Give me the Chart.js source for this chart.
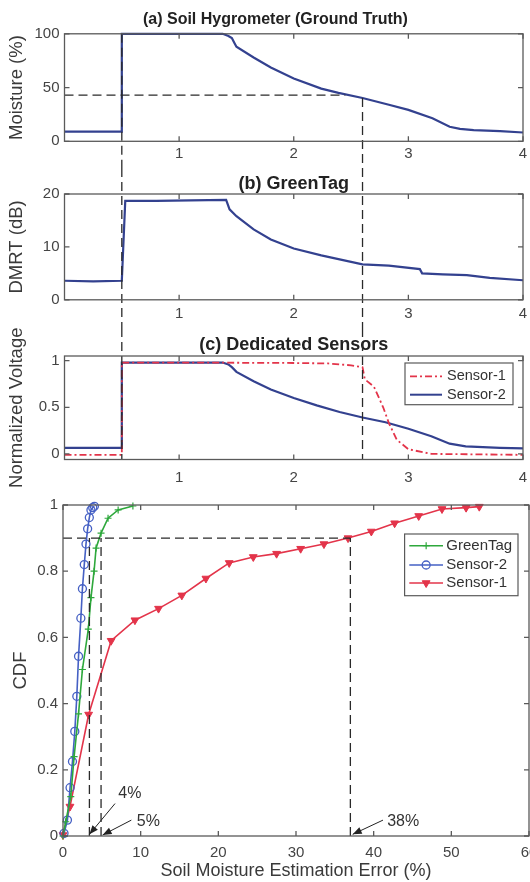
<!DOCTYPE html>
<html><head><meta charset="utf-8">
<script src="https://cdn.jsdelivr.net/npm/chart.js@4.4.1/dist/chart.umd.min.js"></script>
<style>
html,body{margin:0;padding:0;background:#fff;}
body{width:530px;height:882px;overflow:hidden;position:relative;}
canvas{position:absolute;left:0;display:block;}
#cD{background:#fff;}
</style></head><body>
<canvas id="cA" width="550" height="168" style="top:0px"></canvas>
<canvas id="cB" width="550" height="160" style="top:168px"></canvas>
<canvas id="cC" width="550" height="191" style="top:300px"></canvas>
<canvas id="cD" width="550" height="391" style="top:491px"></canvas>
<script>
const FONT = "'Liberation Sans', Arial, Helvetica, sans-serif";
Chart.defaults.font.family = FONT;
Chart.defaults.color = '#444';

// ---------- data ----------
// (a) soil hygrometer
const daysA = [0, 0.5, 0.5, 1.0, 1.38, 1.43, 1.46, 1.48, 1.5, 1.65, 1.8, 2.0, 2.24, 2.39, 2.6, 2.83, 3.0, 3.21, 3.36, 3.45, 3.57, 3.8, 4.0];
const moistureA = [9, 9, 100, 100, 100, 98, 96, 92, 88, 78, 68.6, 58.5, 49, 45, 40.3, 34, 29.2, 21.4, 13.5, 11.5, 10.4, 9.4, 8.2];
// (b) GreenTag DMRT
const daysB = [0, 0.25, 0.5, 0.53, 0.8, 1.1, 1.41, 1.44, 1.5, 1.65, 1.8, 2.0, 2.24, 2.39, 2.6, 2.83, 3.1, 3.12, 3.3, 3.51, 3.71, 4.0];
const dmrtB = [3.6, 3.5, 3.6, 18.7, 18.7, 18.8, 18.9, 17.1, 15.8, 13.3, 11.4, 9.7, 8.4, 7.7, 6.7, 6.45, 5.8, 5.0, 4.8, 4.66, 4.15, 3.7];
// (c) dedicated sensors
const daysSensor1 = [0, 0.5, 0.5, 1.0, 2.0, 2.3, 2.5, 2.6, 2.62, 2.7, 2.78, 2.83, 2.9, 3.0, 3.2, 4.0];
const voltSensor1 = [-0.01, -0.01, 0.98, 0.98, 0.975, 0.97, 0.95, 0.93, 0.8, 0.72, 0.5, 0.33, 0.15, 0.05, 0.0, -0.01];
const daysSensor2 = [0, 0.5, 0.5, 1.0, 1.38, 1.43, 1.46, 1.5, 1.65, 1.8, 2.0, 2.2, 2.4, 2.6, 2.8, 3.0, 3.2, 3.36, 3.5, 3.8, 4.0];
const voltSensor2 = [0.065, 0.065, 0.98, 0.98, 0.98, 0.96, 0.93, 0.88, 0.78, 0.69, 0.6, 0.52, 0.45, 0.39, 0.34, 0.27, 0.19, 0.11, 0.08, 0.065, 0.06];
// CDF of estimation error
const errGreenTag = [0, 0.35, 1.0, 1.43, 2.0, 2.5, 3.26, 3.6, 4.0, 4.26, 4.9, 5.8, 7.1, 9.0];
const cdfGreenTag = [0, 0.043, 0.119, 0.24, 0.369, 0.503, 0.625, 0.72, 0.8, 0.87, 0.915, 0.96, 0.985, 0.997];
const errSensor2 = [0.13, 0.57, 0.91, 1.22, 1.52, 1.78, 2.0, 2.3, 2.5, 2.74, 2.96, 3.17, 3.39, 3.6, 3.83, 4.04];
const cdfSensor2 = [0.008, 0.048, 0.146, 0.225, 0.316, 0.422, 0.543, 0.658, 0.747, 0.82, 0.882, 0.928, 0.962, 0.985, 0.992, 0.996];
const errSensor1 = [0, 0.9, 3.3, 6.2, 9.26, 12.3, 15.3, 18.4, 21.4, 24.5, 27.5, 30.6, 33.6, 36.7, 39.7, 42.7, 45.8, 48.8, 51.9, 53.6];
const cdfSensor1 = [0.003, 0.089, 0.367, 0.59, 0.652, 0.687, 0.727, 0.778, 0.825, 0.843, 0.853, 0.868, 0.882, 0.9, 0.92, 0.945, 0.967, 0.988, 0.992, 0.995];

// ticks
const dayTicks = [1, 2, 3, 4];
const moistureTicks = [0, 50, 100];
const dmrtTicks = [0, 10, 20];
const voltTicks = [0, 0.5, 1];
const errTicks = [0, 10, 20, 30, 40, 50, 60];
const cdfTicks = [0, 0.2, 0.4, 0.6, 0.8, 1];

// reference markers
const refDays = [0.5, 2.6];
const refMoisture = 43;
const refMoistureEnd = 2.45;
const refMoistureAtDay = [100, 40.3];
const cdfLevel = 0.9;
const errAt90 = [3.4, 4.9, 37];
const errLabels = ['4%', '5%', '38%'];

// ---------- helpers ----------
const pts = (xs, ys) => xs.map((x, i) => ({x, y: ys[i]}));
const BLUE = '#33418f', RED = '#e3344a', GREEN = '#2ea83c', BLUE2 = '#4560c4';
const fmt = v => String(+Number(v).toFixed(2));

function axisX(min, max, ticks, height, pad, title) {
  return {type: 'linear', min, max,
    afterBuildTicks: s => { s.ticks = ticks.map(v => ({value: v})); },
    afterFit: s => { s.height = height; },
    grid: {display: false, drawTicks: false}, border: {display: false},
    ticks: {autoSkip: false, maxRotation: 0, padding: pad, font: {size: 15}, color: '#444', callback: fmt},
    title: title || {display: false}};
}
function axisY(min, max, ticks, width, text, tpad) {
  return {type: 'linear', min, max,
    afterBuildTicks: s => { s.ticks = ticks.map(v => ({value: v})); },
    afterFit: s => { s.width = width; },
    grid: {display: false, drawTicks: false}, border: {display: false},
    ticks: {autoSkip: false, padding: 5, font: {size: 15}, color: '#444', callback: fmt},
    title: {display: true, text, font: {size: 18.5}, color: '#3a3a3a', padding: {top: tpad, bottom: 0}}};
}
function dashLine(ctx, x1, y1, x2, y2) {
  ctx.save(); ctx.beginPath(); ctx.setLineDash([9, 5]); ctx.lineWidth = 1.3; ctx.strokeStyle = '#2a2a2a';
  ctx.moveTo(x1, y1); ctx.lineTo(x2, y2); ctx.stroke(); ctx.restore();
}
function drawFrame(chart) {
  const {ctx, chartArea: a} = chart; const xs = chart.scales.x, ys = chart.scales.y;
  ctx.save(); ctx.setLineDash([]); ctx.strokeStyle = '#5a5a5a'; ctx.lineWidth = 1.3;
  ctx.strokeRect(a.left, a.top, a.right - a.left, a.bottom - a.top);
  const L = 5; ctx.beginPath();
  xs.ticks.forEach(t => { const p = xs.getPixelForValue(t.value); ctx.moveTo(p, a.bottom); ctx.lineTo(p, a.bottom - L); ctx.moveTo(p, a.top); ctx.lineTo(p, a.top + L); });
  ys.ticks.forEach(t => { const p = ys.getPixelForValue(t.value); ctx.moveTo(a.left, p); ctx.lineTo(a.left + L, p); ctx.moveTo(a.right, p); ctx.lineTo(a.right - L, p); });
  ctx.stroke(); ctx.restore();
}
function drawLegend(chart, cfg) {
  const {ctx, chartArea: a} = chart;
  const x0 = a.right - cfg.rightInset - cfg.w, y0 = a.top + cfg.topInset;
  ctx.save(); ctx.setLineDash([]);
  ctx.fillStyle = '#fff'; ctx.fillRect(x0, y0, cfg.w, cfg.h);
  ctx.strokeStyle = '#5a5a5a'; ctx.lineWidth = 1.2; ctx.strokeRect(x0, y0, cfg.w, cfg.h);
  cfg.rows.forEach((r, i) => {
    const y = y0 + cfg.rowY[i];
    ctx.beginPath(); ctx.setLineDash(r.dash || []); ctx.strokeStyle = r.color; ctx.lineWidth = r.lw;
    ctx.moveTo(x0 + cfg.sampleX[0], y); ctx.lineTo(x0 + cfg.sampleX[1], y); ctx.stroke(); ctx.setLineDash([]);
    if (r.point) {
      ctx.strokeStyle = r.color; ctx.fillStyle = r.point.fill; ctx.lineWidth = r.point.bw;
      Chart.helpers.drawPoint(ctx, {pointStyle: r.point.style, radius: r.point.r, rotation: r.point.rot || 0, borderWidth: r.point.bw}, x0 + (cfg.sampleX[0] + cfg.sampleX[1]) / 2, y);
    }
    ctx.fillStyle = '#333'; ctx.font = cfg.font + 'px ' + FONT; ctx.textBaseline = 'middle'; ctx.textAlign = 'left';
    ctx.fillText(r.label, x0 + cfg.textX, y);
  });
  ctx.restore();
}
function arrow(ctx, x1, y1, x2, y2) {
  ctx.beginPath(); ctx.moveTo(x1, y1); ctx.lineTo(x2, y2); ctx.stroke();
  const ang = Math.atan2(y2 - y1, x2 - x1), L = 9, W = 3.5;
  ctx.beginPath(); ctx.moveTo(x2, y2);
  ctx.lineTo(x2 - L * Math.cos(ang) + W * Math.sin(ang), y2 - L * Math.sin(ang) - W * Math.cos(ang));
  ctx.lineTo(x2 - L * Math.cos(ang) - W * Math.sin(ang), y2 - L * Math.sin(ang) + W * Math.cos(ang));
  ctx.closePath(); ctx.fill();
}
const baseOpts = {responsive: false, animation: false, devicePixelRatio: 1, events: []};
function lineDs(label, data, color, extra) {
  return Object.assign({label, data, showLine: true, borderColor: color, backgroundColor: color, borderWidth: 2.2, pointRadius: 0, tension: 0, clip: false}, extra || {});
}
function titleCfg(text, top, bottom) {
  return {display: true, text, fullSize: false, font: {size: 18, weight: 'bold', lineHeight: 1.0}, color: '#222', padding: {top, bottom}};
}
const PAD_R = 27; // canvases are 550 wide; plot right edge lands at x=523

// ---------- (a) ----------
const titleA = '(a) Soil Hygrometer (Ground Truth)';
new Chart(document.getElementById('cA'), {
  type: 'scatter',
  data: {datasets: [lineDs('Moisture', pts(daysA, moistureA), BLUE)]},
  options: Object.assign({}, baseOpts, {
    layout: {padding: {left: 0, right: PAD_R, top: 33.8, bottom: 0}},
    plugins: {legend: {display: false}, tooltip: {enabled: false}, title: {display: false}},
    scales: {x: axisX(0, 4, dayTicks, 26.7, 4), y: axisY(0, 100, moistureTicks, 64.5, 'Moisture (%)', 6)}
  }),
  plugins: [{id: 'decorA', afterDatasetsDraw(chart) {
    const xs = chart.scales.x, ys = chart.scales.y, ctx = chart.ctx, a = chart.chartArea;
    dashLine(ctx, xs.getPixelForValue(0), ys.getPixelForValue(refMoisture), xs.getPixelForValue(refMoistureEnd), ys.getPixelForValue(refMoisture));
    refDays.forEach((d, i) => dashLine(ctx, xs.getPixelForValue(d), ys.getPixelForValue(refMoistureAtDay[i]), xs.getPixelForValue(d), chart.height));
    drawFrame(chart);
    ctx.save(); ctx.font = 'bold 16px ' + FONT; ctx.fillStyle = '#222'; ctx.textAlign = 'center'; ctx.textBaseline = 'middle';
    ctx.fillText(titleA, a.left + 0.46 * (a.right - a.left), 20); ctx.restore();
  }}]
});

// ---------- (b) ----------
new Chart(document.getElementById('cB'), {
  type: 'scatter',
  data: {datasets: [lineDs('DMRT', pts(daysB, dmrtB), BLUE)]},
  options: Object.assign({}, baseOpts, {
    layout: {padding: {left: 0, right: PAD_R, top: 0, bottom: 0}},
    plugins: {legend: {display: false}, tooltip: {enabled: false}, title: titleCfg('(b) GreenTag', 6.8, 1.2)},
    scales: {x: axisX(0, 4, dayTicks, 28.2, 5), y: axisY(0, 20, dmrtTicks, 64.5, 'DMRT (dB)', 6)}
  }),
  plugins: [{id: 'decorB', afterDatasetsDraw(chart) {
    const xs = chart.scales.x, ctx = chart.ctx;
    refDays.forEach(d => dashLine(ctx, xs.getPixelForValue(d), 0, xs.getPixelForValue(d), chart.height));
    drawFrame(chart);
  }}]
});

// ---------- (c) ----------
new Chart(document.getElementById('cC'), {
  type: 'scatter',
  data: {datasets: [
    lineDs('Sensor-1', pts(daysSensor1, voltSensor1), RED, {borderDash: [7, 3, 2, 3], borderWidth: 1.8}),
    lineDs('Sensor-2', pts(daysSensor2, voltSensor2), BLUE)
  ]},
  options: Object.assign({}, baseOpts, {
    layout: {padding: {left: 0, right: PAD_R, top: 0, bottom: 0}},
    plugins: {legend: {display: false}, tooltip: {enabled: false}, title: titleCfg('(c) Dedicated Sensors', 36, 2)},
    scales: {x: axisX(0, 4, dayTicks, 31.5, 9), y: axisY(-0.06, 1.05, voltTicks, 64.5, 'Normalized Voltage', 6)}
  }),
  plugins: [{id: 'decorC', afterDatasetsDraw(chart) {
    const xs = chart.scales.x, ctx = chart.ctx, a = chart.chartArea;
    refDays.forEach(d => dashLine(ctx, xs.getPixelForValue(d), 28, xs.getPixelForValue(d), a.bottom));
    drawFrame(chart);
    drawLegend(chart, {rightInset: 10, topInset: 7, w: 108, h: 41.7, rowY: [13.4, 31.7], sampleX: [5, 37], textX: 42, font: 14.5,
      rows: [{label: 'Sensor-1', color: RED, dash: [7, 3, 2, 3], lw: 1.8}, {label: 'Sensor-2', color: BLUE, lw: 2}]});
  }}]
});

// ---------- CDF ----------
const ptGreen = {style: 'cross', r: 3.5, bw: 1.2, fill: GREEN};
const ptBlue = {style: 'circle', r: 4, bw: 1.3, fill: 'rgba(0,0,0,0)'};
const ptRed = {style: 'triangle', r: 4.5, bw: 1, fill: RED, rot: 180};
new Chart(document.getElementById('cD'), {
  type: 'scatter',
  data: {datasets: [
    lineDs('GreenTag', pts(errGreenTag, cdfGreenTag), GREEN, {borderWidth: 1.6, pointStyle: 'cross', pointRadius: 3.5, pointBorderWidth: 1.2}),
    lineDs('Sensor-2', pts(errSensor2, cdfSensor2), BLUE2, {borderWidth: 1.6, pointStyle: 'circle', pointRadius: 4, pointBorderWidth: 1.3, pointBackgroundColor: 'rgba(0,0,0,0)'}),
    lineDs('Sensor-1', pts(errSensor1, cdfSensor1), RED, {borderWidth: 1.6, pointStyle: 'triangle', pointRadius: 4.5, pointRotation: 180, pointBorderWidth: 1})
  ]},
  options: Object.assign({}, baseOpts, {
    layout: {padding: {left: 0, right: 21, top: 13, bottom: 0}},
    plugins: {legend: {display: false}, tooltip: {enabled: false}},
    scales: {
      x: axisX(0, 60, errTicks, 46, 8, {display: true, text: 'Soil Moisture Estimation Error (%)', font: {size: 18}, color: '#3a3a3a', padding: {top: 0, bottom: 0}}),
      y: axisY(0, 1, cdfTicks, 63, 'CDF', 10)
    }
  }),
  plugins: [{id: 'decorD', afterDatasetsDraw(chart) {
    const xs = chart.scales.x, ys = chart.scales.y, ctx = chart.ctx;
    const X = v => xs.getPixelForValue(v), Y = v => ys.getPixelForValue(v);
    dashLine(ctx, X(0), Y(cdfLevel), X(errAt90[2]), Y(cdfLevel));
    errAt90.forEach(e => dashLine(ctx, X(e), Y(0), X(e), Y(cdfLevel)));
    const notes = [
      {text: [8.6, 0.128], tail: [6.7, 0.098], head: [3.4, 0.005]},
      {text: [11.0, 0.043], tail: [8.8, 0.048], head: [5.1, 0.003]},
      {text: [43.8, 0.043], tail: [41.2, 0.048], head: [37.3, 0.005]}
    ];
    ctx.save(); ctx.strokeStyle = '#222'; ctx.fillStyle = '#222'; ctx.lineWidth = 1;
    notes.forEach((n, i) => {
      arrow(ctx, X(n.tail[0]), Y(n.tail[1]), X(n.head[0]), Y(n.head[1]));
      ctx.font = '16px ' + FONT; ctx.textAlign = 'center'; ctx.textBaseline = 'middle'; ctx.fillStyle = '#333';
      ctx.fillText(errLabels[i], X(n.text[0]), Y(n.text[1])); ctx.fillStyle = '#222';
    });
    ctx.restore();
    drawFrame(chart);
    drawLegend(chart, {rightInset: 11, topInset: 29, w: 113.4, h: 61.7, rowY: [11.7, 31, 49], sampleX: [4.7, 38.4], textX: 41.7, font: 15,
      rows: [{label: 'GreenTag', color: GREEN, lw: 1.6, point: ptGreen}, {label: 'Sensor-2', color: BLUE2, lw: 1.6, point: ptBlue}, {label: 'Sensor-1', color: RED, lw: 1.6, point: ptRed}]});
  }}]
});
</script>
</body></html>
